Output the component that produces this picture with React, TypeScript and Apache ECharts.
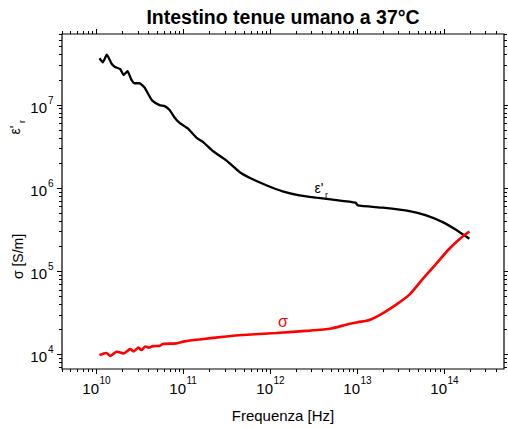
import React, { useEffect, useRef } from 'react';
import * as echarts from 'echarts';

// Relative permittivity ε'r of human small intestine at 37 °C
const freqEps = [
  1.08e10, 1.18e10, 1.31e10, 1.48e10, 1.61e10, 1.87e10, 2.04e10, 2.27e10, 2.5e10, 2.74e10,
  3.12e10, 3.56e10, 3.89e10, 4.37e10, 5.3e10, 6.05e10, 6.91e10, 7.88e10, 9.0e10, 1.12e11,
  1.4e11, 1.67e11, 2.17e11, 3.1e11, 4.41e11, 5.74e11, 8.94e11, 1.38e12, 2.15e12, 3.35e12,
  5.2e12, 9.49e12, 1.01e13, 1.95e13, 3.96e13, 6.17e13, 9.56e13, 1.36e14, 1.94e14,
];
const epsReal = [
  3.65e7, 3.27e7, 4.04e7, 3.18e7, 2.89e7, 2.71e7, 2.3e7, 2.55e7, 2.04e7, 1.83e7,
  1.83e7, 1.63e7, 1.38e7, 1.13e7, 1.0e7, 9.72e6, 8.71e6, 7.11e6, 6.12e6, 5.24e6,
  4.08e6, 3.61e6, 2.81e6, 2.17e6, 1.57e6, 1.34e6, 1.09e6, 9.2e5, 8.24e5, 7.73e5,
  7.31e5, 6.73e5, 6.24e5, 5.85e5, 5.33e5, 4.73e5, 3.93e5, 3.18e5, 2.48e5,
];

// Conductivity σ [S/m]
const freqSigma = [
  1.08e10, 1.29e10, 1.44e10, 1.71e10, 2.04e10, 2.44e10, 2.66e10, 3.04e10, 3.26e10, 3.66e10,
  3.99e10, 4.44e10, 5.3e10, 5.78e10, 8.24e10, 1.03e11, 1.53e11, 3.1e11, 4.81e11, 1.16e12,
  2.81e12, 4.99e12, 7.42e12, 1.01e13, 1.37e13, 1.95e13, 2.79e13, 3.96e13, 5.64e13, 8.03e13,
  1.14e14, 1.62e14, 1.94e14,
];
const sigma = [
  9.9e3, 1.05e4, 9.7e3, 1.09e4, 1.04e4, 1.17e4, 1.1e4, 1.22e4, 1.14e4, 1.26e4,
  1.22e4, 1.27e4, 1.28e4, 1.35e4, 1.37e4, 1.45e4, 1.53e4, 1.66e4, 1.73e4, 1.83e4,
  1.95e4, 2.07e4, 2.3e4, 2.46e4, 2.62e4, 3.15e4, 4.0e4, 5.28e4, 8.17e4, 1.24e5,
  1.88e5, 2.64e5, 3.03e5,
];

// Axis extents and decade labels
const X_MIN = 4e9;
const X_MAX = 4.85e14;
const Y_MIN = 6.75e3;
const Y_MAX = 7.15e7;
const xDecades = [9, 10, 11, 12, 13, 14];
const xLabelDecades = [10, 11, 12, 13, 14];
const yDecades = [3, 4, 5, 6, 7];
const yLabelDecades = [4, 5, 6, 7];
const mantissas = [1, 2, 3, 4, 5, 6, 7, 8, 9];

const FONT = '"Liberation Sans", Arial, Helvetica, sans-serif';

function logTicks(decades: number[], labelled: number[], lo: number, hi: number) {
  const out: number[][] = [];
  for (const d of decades) {
    for (const m of mantissas) {
      const v = m * Math.pow(10, d);
      if (v >= lo * 0.999 && v <= hi * 1.001) {
        const major = m === 1 && labelled.includes(d) ? 1 : 0;
        out.push([v, d, major]);
      }
    }
  }
  return out;
}

const xTickData = logTicks(xDecades, xLabelDecades, X_MIN, X_MAX).map((t) => [t[0], Y_MIN, t[2], t[1]]);
const yTickData = logTicks(yDecades, yLabelDecades, Y_MIN, Y_MAX).map((t) => [X_MIN, t[0], t[2], t[1]]);

const snap = (v: number) => Math.round(v - 0.5) + 0.5;

export default function App() {
  const ref = useRef<HTMLDivElement>(null);

  useEffect(() => {
    if (!ref.current) return;
    const chart = echarts.init(ref.current, undefined, { renderer: 'svg' });

    const tickStyle = { stroke: '#000', lineWidth: 1 };

    const option: any = {
      animation: false,
      backgroundColor: '#fff',
      grid: {
        left: 62,
        right: 4,
        top: 34,
        bottom: 60,
        show: true,
        borderColor: '#000',
        borderWidth: 1.2,
        backgroundColor: 'transparent',
      },
      xAxis: {
        type: 'log',
        logBase: 10,
        min: X_MIN,
        max: X_MAX,
        axisLine: { show: false },
        axisTick: { show: false },
        axisLabel: { show: false },
        splitLine: { show: false },
      },
      yAxis: {
        type: 'log',
        logBase: 10,
        min: Y_MIN,
        max: Y_MAX,
        axisLine: { show: false },
        axisTick: { show: false },
        axisLabel: { show: false },
        splitLine: { show: false },
      },
      graphic: [
        {
          type: 'text',
          x: 283,
          y: 17,
          style: {
            text: 'Intestino tenue umano a 37°C',
            font: `bold 19.5px ${FONT}`,
            fill: '#000',
            align: 'center',
            verticalAlign: 'middle',
          },
        },
        {
          type: 'text',
          x: 283,
          y: 415,
          style: {
            text: 'Frequenza [Hz]',
            font: `15px ${FONT}`,
            fill: '#000',
            align: 'center',
            verticalAlign: 'middle',
          },
        },
        {
          type: 'group',
          x: 15,
          y: 130,
          rotation: Math.PI / 2,
          children: [
            {
              type: 'text',
              x: 0,
              y: 0,
              style: { text: "ε'", font: `14px ${FONT}`, fill: '#000', align: 'center', verticalAlign: 'middle' },
            },
            {
              type: 'text',
              x: 7,
              y: 7,
              style: { text: 'r', font: `9px ${FONT}`, fill: '#000', align: 'left', verticalAlign: 'middle' },
            },
          ],
        },
        {
          type: 'group',
          x: 17.5,
          y: 256.5,
          rotation: Math.PI / 2,
          children: [
            {
              type: 'text',
              x: 0,
              y: 0,
              style: { text: 'σ [S/m]', font: `14px ${FONT}`, fill: '#000', align: 'center', verticalAlign: 'middle' },
            },
          ],
        },
        {
          type: 'text',
          x: 319,
          y: 188,
          style: { text: "ε'", font: `14px ${FONT}`, fill: '#000', align: 'center', verticalAlign: 'middle' },
        },
        {
          type: 'text',
          x: 325,
          y: 195,
          style: { text: 'r', font: `9px ${FONT}`, fill: '#000', align: 'left', verticalAlign: 'middle' },
        },
        {
          type: 'text',
          x: 283,
          y: 321,
          style: { text: 'σ', font: `16px ${FONT}`, fill: '#ff0000', align: 'center', verticalAlign: 'middle' },
        },
      ],
      series: [
        {
          name: "ε'r",
          type: 'line',
          data: freqEps.map((f, i) => [f, epsReal[i]]),
          showSymbol: false,
          symbol: 'none',
          smooth: 0.15,
          lineStyle: { color: '#000', width: 2.3 },
          z: 3,
        },
        {
          name: 'σ',
          type: 'line',
          data: freqSigma.map((f, i) => [f, sigma[i]]),
          showSymbol: false,
          symbol: 'none',
          smooth: 0.25,
          lineStyle: { color: '#ff0000', width: 2.6 },
          z: 4,
        },
        {
          // ticks on bottom and top edges, labels under the bottom edge
          type: 'custom',
          data: xTickData,
          encode: { x: 0, y: 1 },
          silent: true,
          renderItem: (params: any, api: any) => {
            const cs = params.coordSys;
            const px = snap(api.coord([api.value(0), Y_MIN])[0]);
            const major = api.value(2) === 1;
            const len = major ? 5 : 3;
            const bottom = cs.y + cs.height;
            const top = cs.y;
            const children: any[] = [
              { type: 'line', shape: { x1: px, y1: bottom, x2: px, y2: bottom + len }, style: tickStyle },
              { type: 'line', shape: { x1: px, y1: top, x2: px, y2: top - len }, style: tickStyle },
            ];
            if (major) {
              children.push(
                {
                  type: 'text',
                  x: px + 2.5,
                  y: bottom + 19,
                  style: { text: '10', font: `15px ${FONT}`, fill: '#000', align: 'right', verticalAlign: 'middle' },
                },
                {
                  type: 'text',
                  x: px + 3,
                  y: bottom + 11,
                  style: { text: String(api.value(3)), font: `10px ${FONT}`, fill: '#000', align: 'left', verticalAlign: 'middle' },
                }
              );
            }
            return { type: 'group', children };
          },
          z: 5,
        },
        {
          // ticks on left and right edges, labels beside the left edge
          type: 'custom',
          data: yTickData,
          encode: { x: 0, y: 1 },
          silent: true,
          renderItem: (params: any, api: any) => {
            const cs = params.coordSys;
            const py = snap(api.coord([X_MIN, api.value(1)])[1]);
            const major = api.value(2) === 1;
            const len = major ? 5 : 3;
            const left = cs.x;
            const right = cs.x + cs.width;
            const children: any[] = [
              { type: 'line', shape: { x1: left, y1: py, x2: left - len, y2: py }, style: tickStyle },
              { type: 'line', shape: { x1: right, y1: py, x2: right + len, y2: py }, style: tickStyle },
            ];
            if (major) {
              const exp = String(api.value(3));
              children.push(
                {
                  type: 'text',
                  x: left - 15,
                  y: py + 2,
                  style: { text: '10', font: `15px ${FONT}`, fill: '#000', align: 'right', verticalAlign: 'middle' },
                },
                {
                  type: 'text',
                  x: left - 14,
                  y: py - 5,
                  style: { text: exp, font: `10px ${FONT}`, fill: '#000', align: 'left', verticalAlign: 'middle' },
                }
              );
            }
            return { type: 'group', children };
          },
          z: 5,
        },
      ],
    };

    chart.setOption(option);
    return () => chart.dispose();
  }, []);

  return (
    <div
      ref={ref}
      style={{ position: 'fixed', left: 0, top: 0, width: 508, height: 429, background: '#fff' }}
    />
  );
}
